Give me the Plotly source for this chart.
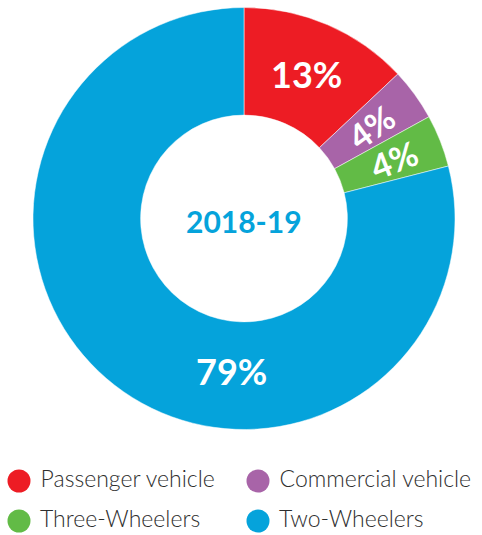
import math
import plotly.graph_objects as go

# ---- data ----
categories = ["Passenger vehicle", "Commercial vehicle", "Three-Wheelers", "Two-Wheelers"]
shares = [13, 4, 4, 79]
colors = ["#ED1C24", "#A864A8", "#62BB46", "#05A3DB"]
center_label = "2018-19"

# ---- layout constants (pixels) ----
W, H = 482, 535
CX, CY, R_OUT = 244, 218.5, 211
HOLE = 0.49

def px(x):
    return x / W

def py(y):
    return 1 - y / H

fig = go.Figure()
fig.add_trace(go.Pie(
    labels=categories,
    values=shares,
    sort=False,
    direction="clockwise",
    rotation=0,
    hole=HOLE,
    marker=dict(colors=colors, line=dict(color="white", width=0.5)),
    textinfo="none",
    hoverinfo="label+percent",
    showlegend=False,
    domain=dict(x=[px(CX - R_OUT), px(CX + R_OUT)], y=[py(CY + R_OUT), py(CY - R_OUT)]),
))

# slice labels as annotations (placed from cumulative values)
label_style = {
    0: dict(r=157, size=36, radial=False, shift=0),
    1: dict(r=157, size=34, radial=True, shift=0),
    2: dict(r=161, size=34, radial=True, shift=0),
    3: dict(r=153, size=36, radial=False, shift=-33),
}
total = sum(shares)
cum = 0
for i, v in enumerate(shares):
    mid = (cum + v / 2) / total * 360.0
    cum += v
    st = label_style[i]
    ang = mid + st["shift"]
    x = CX + st["r"] * math.sin(math.radians(ang))
    y = CY - st["r"] * math.cos(math.radians(ang))
    fig.add_annotation(
        x=px(x), y=py(y), xref="paper", yref="paper",
        text=f"{round(v / total * 100)}%",
        showarrow=False,
        textangle=(mid - 90) if st["radial"] else 0,
        font=dict(family="Lato", size=st["size"], color="white", weight=700),
        xanchor="center", yanchor="middle",
    )

fig.add_annotation(
    x=px(CX), y=py(221), xref="paper", yref="paper",
    text=center_label, showarrow=False,
    font=dict(family="Lato", size=30, color="#05A3DB", weight=700),
    xanchor="center", yanchor="middle",
)

# custom legend with large circle markers
col_x = [19, 258]
row_y = [481, 521]
lx = [col_x[i % 2] for i in range(len(categories))]
ly = [row_y[i // 2] for i in range(len(categories))]
fig.add_trace(go.Scatter(
    x=lx, y=ly, mode="markers+text",
    marker=dict(size=23, color=colors, line=dict(width=0)),
    text=[" " + c for c in categories],
    textposition="middle right",
    textfont=dict(family="Lato", size=23, color="#2e2e2e", weight=300),
    hoverinfo="skip", showlegend=False,
    cliponaxis=False,
))

fig.update_layout(
    width=W, height=H,
    margin=dict(l=0, r=0, t=0, b=0),
    paper_bgcolor="white", plot_bgcolor="rgba(0,0,0,0)",
    xaxis=dict(range=[0, W], visible=False, fixedrange=True, domain=[0, 1]),
    yaxis=dict(range=[H, 0], visible=False, fixedrange=True, domain=[0, 1]),
    showlegend=False,
)

fig.write_html(
    "out.html",
    config={"displayModeBar": False},
    post_script="document.body.style.margin='0';document.body.style.overflow='hidden';",
)
